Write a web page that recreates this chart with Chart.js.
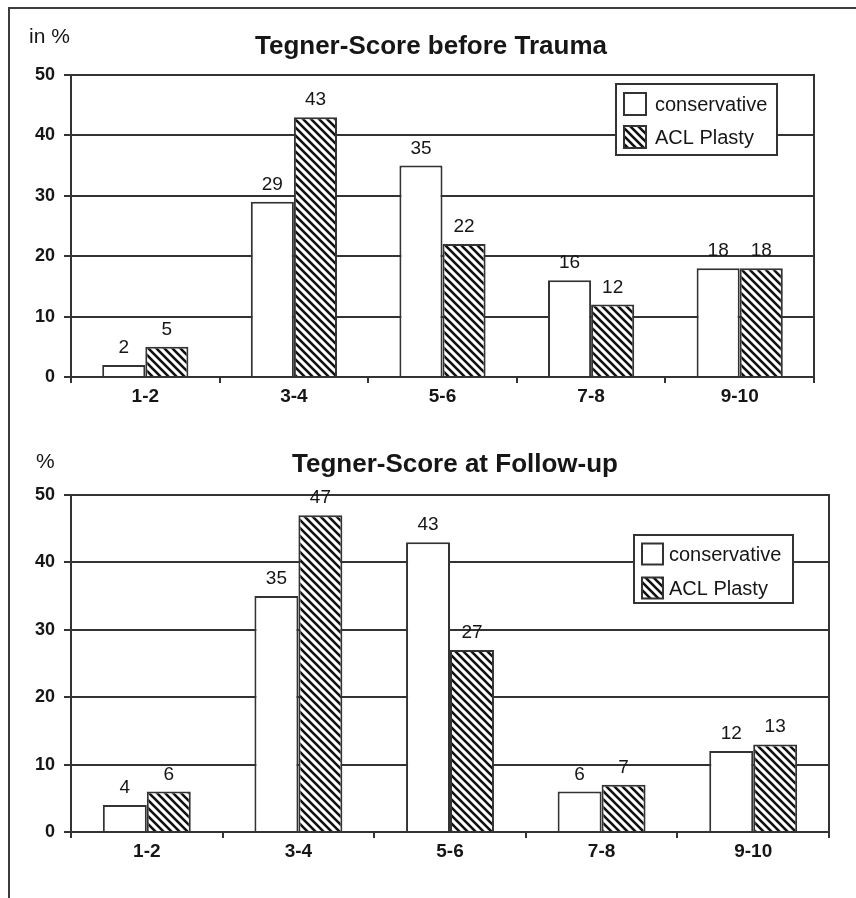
<!DOCTYPE html>
<html>
<head>
<meta charset="utf-8">
<title>Tegner-Score</title>
<script src="https://cdn.jsdelivr.net/npm/chart.js@4.4.1/dist/chart.umd.min.js"></script>
<style>
  html, body { margin: 0; padding: 0; background: #fff; }
  body { width: 856px; height: 898px; position: relative; overflow: hidden; }
  #frame { position: absolute; left: 8px; top: 7px; width: 900px; height: 950px;
           border-left: 2px solid #3c3c3c; border-top: 2px solid #3c3c3c; }
  .panel { position: absolute; left: 10px; width: 846px; }
  #p1 { top: 10px; height: 420px; }
  #p2 { top: 430px; height: 468px; }
  canvas { display: block; }
</style>
</head>
<body>
<div id="frame"></div>
<div class="panel" id="p1"><canvas id="c1" width="846" height="420"></canvas></div>
<div class="panel" id="p2"><canvas id="c2" width="846" height="468"></canvas></div>
<script>
// Tegner activity score groups
const categories = ['1-2', '3-4', '5-6', '7-8', '9-10'];
const seriesNames = ['conservative', 'ACL Plasty'];

// Share of patients (%) per score group before the trauma
const beforeConservative = [2, 29, 35, 16, 18];
const beforeAclPlasty    = [5, 43, 22, 12, 18];

// Share of patients (%) per score group at follow-up
const followConservative = [4, 35, 43, 6, 12];
const followAclPlasty    = [6, 47, 27, 7, 13];

// Value axis ticks
const yTicks = [0, 10, 20, 30, 40, 50];

const LINE = '#333333';
const INK = '#161616';
const FONT = '"Liberation Sans", Arial, Helvetica, sans-serif';

// Diagonal stripe fill for the surgical group
function stripePattern(ctx) {
  const t = document.createElement('canvas');
  t.width = 8; t.height = 8;
  const g = t.getContext('2d');
  g.fillStyle = '#ffffff';
  g.fillRect(0, 0, 8, 8);
  g.strokeStyle = '#111111';
  g.lineWidth = 2.6;
  g.beginPath();
  g.moveTo(-2, -2); g.lineTo(10, 10);
  g.moveTo(-2, 6);  g.lineTo(2, 10);
  g.moveTo(6, -2);  g.lineTo(10, 2);
  g.stroke();
  return ctx.createPattern(t, 'repeat');
}

// Titles, unit caption, value labels, right frame edge and boxed legend
const decorations = {
  id: 'decorations',
  afterDatasetsDraw(chart, args, opts) {
    const ctx = chart.ctx;
    const a = chart.chartArea;
    ctx.save();
    // right edge of the plot frame
    ctx.strokeStyle = LINE;
    ctx.lineWidth = 2;
    ctx.beginPath();
    ctx.moveTo(a.right, a.top - 1);
    ctx.lineTo(a.right, a.bottom + 1);
    ctx.stroke();
    // value labels above each bar
    ctx.font = '19px ' + FONT;
    ctx.fillStyle = INK;
    ctx.textAlign = 'center';
    ctx.textBaseline = 'alphabetic';
    chart.data.datasets.forEach((ds, i) => {
      chart.getDatasetMeta(i).data.forEach((bar, j) => {
        ctx.fillText(String(ds.data[j]), bar.x, bar.y - 12);
      });
    });
    ctx.restore();
  },
  afterDraw(chart, args, opts) {
    const ctx = chart.ctx;
    ctx.save();
    ctx.fillStyle = INK;
    ctx.textBaseline = 'alphabetic';
    // unit caption
    ctx.font = '21px ' + FONT;
    ctx.textAlign = 'left';
    ctx.fillText(opts.unit, opts.unitX, opts.unitY);
    // chart title
    ctx.font = 'bold 26px ' + FONT;
    ctx.textAlign = 'center';
    ctx.fillText(opts.title, opts.titleX, opts.titleY);
    // legend box
    const L = opts.legend;
    ctx.fillStyle = '#ffffff';
    ctx.fillRect(L.x, L.y, L.w, L.h);
    ctx.strokeStyle = LINE;
    ctx.lineWidth = 2;
    ctx.strokeRect(L.x, L.y, L.w, L.h);
    ctx.font = '20px ' + FONT;
    ctx.textAlign = 'left';
    ctx.textBaseline = 'middle';
    chart.data.datasets.forEach((ds, i) => {
      const cy = L.y + L.rowTop + i * L.rowGap;
      ctx.fillStyle = ds.backgroundColor;
      ctx.fillRect(L.x + L.swX, cy - L.sw / 2, L.sw, L.sw);
      ctx.strokeStyle = LINE;
      ctx.strokeRect(L.x + L.swX, cy - L.sw / 2, L.sw, L.sw);
      ctx.fillStyle = INK;
      ctx.fillText(ds.label, L.x + L.textX, cy + 1);
    });
    ctx.restore();
  }
};

function makeChart(id, cons, acl, cfg) {
  const canvas = document.getElementById(id);
  const ctx = canvas.getContext('2d');
  const stripes = stripePattern(ctx);
  return new Chart(ctx, {
    type: 'bar',
    data: {
      labels: categories,
      datasets: [
        { label: seriesNames[0], data: cons, backgroundColor: '#ffffff',
          borderColor: LINE, borderWidth: 2 },
        { label: seriesNames[1], data: acl, backgroundColor: stripes,
          borderColor: LINE, borderWidth: 2 }
      ]
    },
    options: {
      responsive: false,
      devicePixelRatio: 1,
      animation: false,
      layout: { padding: { left: 0, right: cfg.padRight, top: 65, bottom: 0 } },
      datasets: { bar: { categoryPercentage: 0.58, barPercentage: 1.0 } },
      scales: {
        x: {
          grid: { offset: true, drawOnChartArea: false, drawTicks: true,
                  tickLength: 6, color: LINE, lineWidth: 2 },
          border: { display: true, color: LINE, width: 2 },
          ticks: { color: INK, font: { family: FONT, size: 19, weight: 'bold' },
                   padding: 2, maxRotation: 0 },
          afterFit(scale) { scale.height = cfg.xHeight; }
        },
        y: {
          min: 0, max: 50,
          afterBuildTicks(scale) { scale.ticks = yTicks.map(v => ({ value: v })); },
          grid: { drawOnChartArea: true, drawTicks: true, tickLength: 7,
                  color: LINE, lineWidth: 2 },
          border: { display: true, color: LINE, width: 2 },
          ticks: { color: INK, font: { family: FONT, size: 18, weight: 'bold' }, padding: 9 },
          afterFit(scale) { scale.width = 61; }
        }
      },
      plugins: {
        legend: { display: false },
        tooltip: { enabled: false },
        decorations: cfg.decor
      }
    },
    plugins: [decorations]
  });
}

makeChart('c1', beforeConservative, beforeAclPlasty, {
  padRight: 42,
  xHeight: 53,
  decor: {
    unit: 'in %', unitX: 19, unitY: 33,
    title: 'Tegner-Score before Trauma', titleX: 421, titleY: 44,
    legend: { x: 606, y: 74, w: 161, h: 71, rowTop: 20, rowGap: 33,
              swX: 8, sw: 22, textX: 39 }
  }
});

makeChart('c2', followConservative, followAclPlasty, {
  padRight: 27,
  xHeight: 66,
  decor: {
    unit: '%', unitX: 26, unitY: 38,
    title: 'Tegner-Score at Follow-up', titleX: 445, titleY: 42,
    legend: { x: 624, y: 105, w: 159, h: 68, rowTop: 19, rowGap: 34,
              swX: 8, sw: 21, textX: 35 }
  }
});
</script>
</body>
</html>
